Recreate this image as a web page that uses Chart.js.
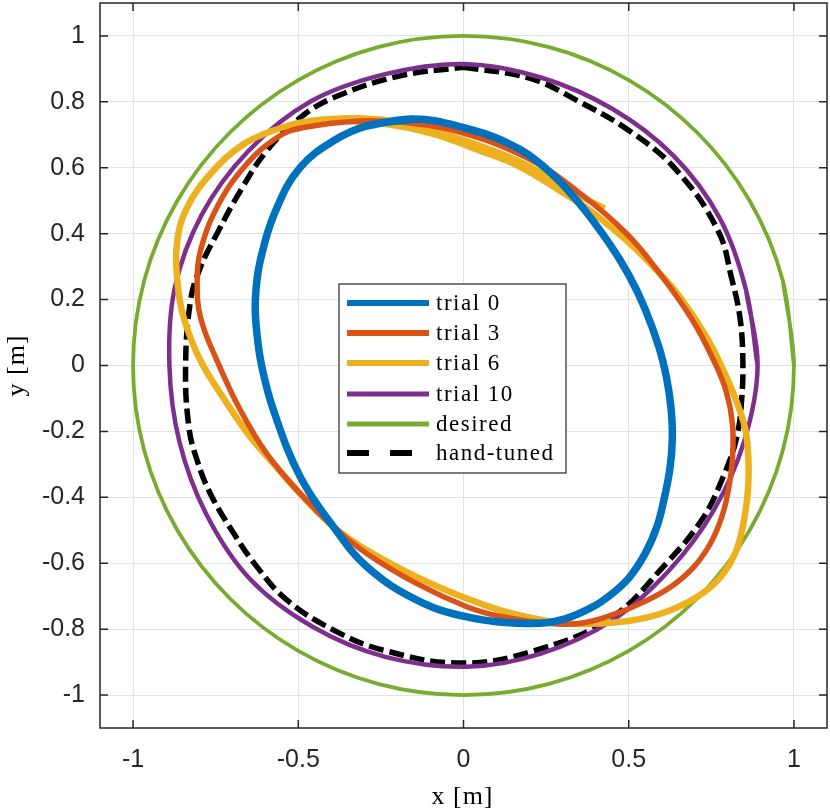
<!DOCTYPE html>
<html>
<head>
<meta charset="utf-8">
<script src="https://cdn.jsdelivr.net/npm/chart.js@4.4.1/dist/chart.umd.min.js"></script>
<style>
  html, body { margin: 0; padding: 0; background: #ffffff; }
  canvas { display: block; }
</style>
</head>
<body>
<canvas id="c" width="830" height="811"></canvas>
<script>
// ---------------- data ----------------
const xTicks = [-1, -0.5, 0, 0.5, 1];
const yTicks = [-1, -0.8, -0.6, -0.4, -0.2, 0, 0.2, 0.4, 0.6, 0.8, 1];

const seriesNames = ["trial 0", "trial 3", "trial 6", "trial 10", "desired", "hand-tuned"];

const trial0 = [
  [-0.152, 0.748], [-0.292, 0.727], [-0.393, 0.682], [-0.494, 0.601], [-0.564, 0.480],
  [-0.615, 0.318], [-0.630, 0.197], [-0.625, 0.096], [-0.610, -0.005], [-0.575, -0.136],
  [-0.494, -0.338], [-0.393, -0.490], [-0.292, -0.611], [-0.141, -0.712], [0.010, -0.763],
  [0.191, -0.783], [0.292, -0.773], [0.392, -0.732], [0.440, -0.700], [0.500, -0.645],
  [0.550, -0.570], [0.585, -0.490], [0.606, -0.410], [0.625, -0.310], [0.632, -0.220],
  [0.628, -0.130], [0.615, -0.040], [0.590, 0.060], [0.548, 0.175], [0.500, 0.275],
  [0.440, 0.372], [0.345, 0.498], [0.241, 0.605], [0.140, 0.672], [-0.011, 0.725],
  [-0.152, 0.748]
];

const trial3 = [
  [-0.313, 0.742], [-0.192, 0.739], [-0.011, 0.708], [0.192, 0.630], [0.343, 0.530],
  [0.494, 0.400], [0.594, 0.279], [0.694, 0.136], [0.760, 0.009], [0.796, -0.082],
  [0.814, -0.179], [0.814, -0.282], [0.803, -0.370], [0.783, -0.455], [0.750, -0.535],
  [0.700, -0.608], [0.630, -0.670], [0.545, -0.718], [0.450, -0.757], [0.350, -0.783],
  [0.250, -0.782], [0.110, -0.761], [0.010, -0.732], [-0.141, -0.662], [-0.292, -0.571],
  [-0.393, -0.490], [-0.494, -0.389], [-0.595, -0.268], [-0.675, -0.136], [-0.746, 0.015],
  [-0.796, 0.146], [-0.806, 0.258], [-0.796, 0.348], [-0.746, 0.480], [-0.665, 0.601],
  [-0.564, 0.692], [-0.484, 0.722], [-0.313, 0.742]
];

const trial6 = [
  [-0.400, 0.745], [-0.250, 0.735], [-0.100, 0.705], [0.050, 0.652], [0.171, 0.603],
  [0.292, 0.530], [0.391, 0.464], [0.494, 0.379], [0.594, 0.279], [0.663, 0.197],
  [0.736, 0.085], [0.796, -0.036], [0.836, -0.136], [0.857, -0.218], [0.862, -0.360],
  [0.845, -0.490], [0.820, -0.575], [0.775, -0.645], [0.710, -0.700], [0.620, -0.745],
  [0.520, -0.772], [0.410, -0.783], [0.312, -0.783], [0.210, -0.767], [0.110, -0.742],
  [0.010, -0.707], [-0.141, -0.642], [-0.292, -0.561], [-0.393, -0.490], [-0.494, -0.389],
  [-0.575, -0.298], [-0.645, -0.217], [-0.715, -0.116], [-0.796, 0.015], [-0.847, 0.146],
  [-0.866, 0.258], [-0.866, 0.379], [-0.836, 0.480], [-0.766, 0.581], [-0.665, 0.672],
  [-0.564, 0.717], [-0.464, 0.742], [-0.313, 0.750], [-0.192, 0.738], [-0.071, 0.705],
  [0.050, 0.667], [0.171, 0.618], [0.292, 0.552], [0.352, 0.515], [0.427, 0.476]
];

const trial10 = [
  [0.890, 0.000], [0.855, 0.229], [0.775, 0.448], [0.636, 0.636], [0.450, 0.779],
  [0.234, 0.874], [0.000, 0.915], [-0.237, 0.884], [-0.463, 0.801], [-0.651, 0.651],
  [-0.792, 0.458], [-0.874, 0.234], [-0.890, 0.000], [-0.860, -0.230], [-0.779, -0.450],
  [-0.647, -0.647], [-0.458, -0.792], [-0.237, -0.884], [0.010, -0.914], [0.234, -0.874],
  [0.448, -0.775], [0.622, -0.622], [0.758, -0.438], [0.850, -0.228], [0.890, 0.000]
];

const desired = [
  [1, 0], [0.966, 0.259], [0.866, 0.5], [0.707, 0.707], [0.5, 0.866], [0.259, 0.966],
  [0, 1], [-0.259, 0.966], [-0.5, 0.866], [-0.707, 0.707], [-0.866, 0.5], [-0.966, 0.259],
  [-1, 0], [-0.966, -0.259], [-0.866, -0.5], [-0.707, -0.707], [-0.5, -0.866], [-0.259, -0.966],
  [0, -1], [0.259, -0.966], [0.5, -0.866], [0.707, -0.707], [0.866, -0.5], [0.966, -0.259], [1, 0]
];

const handTuned = [
  [0.000, 0.905], [0.200, 0.872], [0.342, 0.805], [0.505, 0.710], [0.645, 0.592],
  [0.770, 0.410], [0.812, 0.262], [0.836, 0.150], [0.845, 0.030], [0.842, -0.100],
  [0.826, -0.221], [0.784, -0.342], [0.724, -0.464], [0.614, -0.600], [0.443, -0.768],
  [0.205, -0.868], [-0.010, -0.903], [-0.242, -0.864], [-0.393, -0.803], [-0.534, -0.712],
  [-0.625, -0.611], [-0.695, -0.510], [-0.766, -0.389], [-0.806, -0.288], [-0.831, -0.187],
  [-0.841, -0.005], [-0.826, 0.197], [-0.796, 0.298], [-0.746, 0.400], [-0.675, 0.530],
  [-0.595, 0.652], [-0.494, 0.752], [-0.393, 0.813], [-0.192, 0.879], [0.000, 0.905]
];

// ---------------- styling ----------------
const colors = ["#0072BD", "#D95319", "#EDB120", "#7E2F8E", "#77AC30", "#000000"];
const widths = [7.5, 5.5, 6.5, 4.5, 3.8, 5.5];
const legendWidths = [6, 6, 6, 5, 5, 6];
const seriesData = [trial0, trial3, trial6, trial10, desired, handTuned];
const closedSolid = [true, true, false, true, true, false];
const tensions = [0.4, 0.4, 0.4, 0.35, 0.33, 0.4];

const toPts = (arr, wrap) => {
  const pts = arr.map(p => ({ x: p[0], y: p[1] }));
  if (wrap) pts.push({ x: arr[1][0], y: arr[1][1] });
  return pts;
};

const datasets = seriesData.map((arr, i) => ({
  label: seriesNames[i],
  data: toPts(arr, closedSolid[i]),
  showLine: true,
  borderColor: colors[i],
  backgroundColor: colors[i],
  borderWidth: widths[i],
  pointRadius: 0,
  pointHoverRadius: 0,
  tension: tensions[i],
  fill: false,
  borderDash: i === 5 ? [15, 6] : [],
  borderCapStyle: 'butt',
  borderJoinStyle: 'round'
}));

const axisColor = '#262626';

const boxPlugin = {
  id: 'boxPlugin',
  afterDatasetsDraw(chart) {
    const { ctx, chartArea: a, scales } = chart;
    ctx.save();
    ctx.strokeStyle = axisColor;
    ctx.lineWidth = 1.5;
    const tl = 8;
    ctx.beginPath();
    xTicks.forEach(v => {
      const px = scales.x.getPixelForValue(v);
      ctx.moveTo(px, a.bottom); ctx.lineTo(px, a.bottom - tl);
      ctx.moveTo(px, a.top); ctx.lineTo(px, a.top + tl);
    });
    yTicks.forEach(v => {
      const py = scales.y.getPixelForValue(v);
      ctx.moveTo(a.left, py); ctx.lineTo(a.left + tl, py);
      ctx.moveTo(a.right, py); ctx.lineTo(a.right - tl, py);
    });
    ctx.stroke();
    ctx.strokeRect(a.left, a.top, a.right - a.left, a.bottom - a.top);

    // axis titles
    ctx.fillStyle = '#000';
    ctx.font = '26px "Liberation Serif", serif';
    ctx.textAlign = 'center';
    ctx.textBaseline = 'middle';
    try { ctx.letterSpacing = '1px'; } catch (e) {}
    ctx.fillText('x [m]', (a.left + a.right) / 2 - 1, 797);
    ctx.save();
    ctx.translate(17, scales.y.getPixelForValue(0));
    ctx.rotate(-Math.PI / 2);
    ctx.fillText('y [m]', 0, 0);
    ctx.restore();
    try { ctx.letterSpacing = '0px'; } catch (e) {}

    // legend box
    const lx = 339, ly = 284, lw = 227, lh = 189;
    ctx.fillStyle = '#ffffff';
    ctx.fillRect(lx, ly, lw, lh);
    ctx.lineWidth = 1.2;
    ctx.strokeStyle = axisColor;
    ctx.strokeRect(lx, ly, lw, lh);
    const rows = [303, 333, 363, 394, 424, 453];
    ctx.font = '23px "Liberation Serif", serif';
    ctx.textAlign = 'left';
    ctx.textBaseline = 'middle';
    try { ctx.letterSpacing = '1.5px'; } catch (e) {}
    seriesNames.forEach((name, i) => {
      const y = rows[i];
      ctx.beginPath();
      ctx.strokeStyle = colors[i];
      ctx.lineWidth = legendWidths[i];
      ctx.lineCap = 'butt';
      ctx.setLineDash(i === 5 ? [22, 21] : []);
      ctx.moveTo(347, y); ctx.lineTo(429, y);
      ctx.stroke();
      ctx.setLineDash([]);
      ctx.fillStyle = '#000';
      ctx.fillText(name, 436, y + 1);
    });
    ctx.restore();
  }
};

new Chart(document.getElementById('c'), {
  type: 'scatter',
  data: { datasets },
  options: {
    responsive: false,
    animation: false,
    devicePixelRatio: 1,
    layout: { padding: { top: 3, right: 3, left: 0, bottom: 0 } },
    plugins: { legend: { display: false }, tooltip: { enabled: false } },
    scales: {
      x: {
        type: 'linear', min: -1.1, max: 1.1,
        afterBuildTicks: s => { s.ticks = xTicks.map(v => ({ value: v })); },
        afterFit: s => { s.height = 83; s.paddingLeft = 0; s.paddingRight = 0; },
        grid: { color: '#e2e2e2', lineWidth: 1, drawTicks: false },
        border: { display: false },
        ticks: {
          padding: 17, color: axisColor, maxRotation: 0, autoSkip: false,
          font: { family: '"Liberation Sans", Arial, sans-serif', size: 25 },
          callback: v => String(v)
        }
      },
      y: {
        type: 'linear', min: -1.1, max: 1.1,
        afterBuildTicks: s => { s.ticks = yTicks.map(v => ({ value: v })); },
        afterFit: s => { s.width = 100; s.paddingTop = 0; s.paddingBottom = 0; },
        grid: { color: '#e2e2e2', lineWidth: 1, drawTicks: false },
        border: { display: false },
        ticks: {
          padding: 15, color: axisColor, autoSkip: false,
          font: { family: '"Liberation Sans", Arial, sans-serif', size: 25 },
          callback: v => String(Math.round(v * 10) / 10)
        }
      }
    }
  },
  plugins: [boxPlugin]
});
</script>
</body>
</html>
